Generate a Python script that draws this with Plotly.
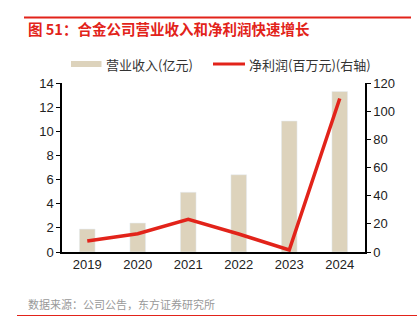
import plotly.graph_objects as go

years = ["2019", "2020", "2021", "2022", "2023", "2024"]
revenue = [1.9, 2.4, 4.95, 6.4, 10.85, 13.3]
net_profit = [7.8, 13.0, 23.2, 12.8, 1.4, 109.0]

red = "#E2231A"
bar_color = "#DDD3BC"
font_family = "Liberation Sans, Arial, Noto Sans CJK SC, sans-serif"
cjk = "Noto Sans CJK SC, sans-serif"

fig = go.Figure()
fig.add_trace(go.Bar(x=years, y=revenue, name="营业收入(亿元)", marker_color=bar_color,
                     width=0.31, yaxis="y", showlegend=False))
fig.add_trace(go.Scatter(x=years, y=net_profit, name="净利润(百万元)(右轴)", mode="lines",
                         line=dict(color=red, width=3.5), yaxis="y2", showlegend=False))

W, H = 417, 335
L, R, T, B = 62, 52, 83, 83
pw, ph = W - L - R, H - T - B


def px(x):
    return (x - L) / pw


def py(y):
    return (H - B - y) / ph


fig.update_layout(
    width=W, height=H,
    margin=dict(l=L, r=R, t=T, b=B),
    paper_bgcolor="white", plot_bgcolor="white",
    font=dict(family=font_family, size=13, color="#222"),
    showlegend=False,
    xaxis=dict(type="category", range=[-0.5, 5.5], showline=True, linecolor="black",
               linewidth=1.5, ticks="", showgrid=False, tickfont=dict(size=13, color="#222")),
    yaxis=dict(range=[0, 14], dtick=2, showline=True, linecolor="black", linewidth=1.5,
               ticks="outside", ticklen=4, tickcolor="black", showgrid=False, zeroline=False,
               tickfont=dict(size=13, color="#222")),
    yaxis2=dict(range=[0, 120], dtick=20, overlaying="y", side="right", showline=True,
                linecolor="black", linewidth=1.5, ticks="outside", ticklen=4, tickcolor="black",
                showgrid=False, zeroline=False, tickfont=dict(size=13, color="#222")),
    shapes=[
        dict(type="rect", xref="paper", yref="paper", x0=px(24), x1=px(411), y0=py(18.5), y1=py(16.5),
             fillcolor=red, line=dict(width=0), layer="above"),
        dict(type="line", xref="paper", yref="paper", x0=px(17), x1=px(417), y0=py(315.5), y1=py(315.5),
             line=dict(color=red, width=1.2)),
        # legend swatches
        dict(type="rect", xref="paper", yref="paper", x0=px(71), x1=px(101.5), y0=py(67), y1=py(61),
             fillcolor=bar_color, line=dict(width=0)),
        dict(type="line", xref="paper", yref="paper", x0=px(213), x1=px(245), y0=py(64), y1=py(64),
             line=dict(color=red, width=3)),
    ],
    annotations=[
        dict(text="<b>图 51：合金公司营业收入和净利润快速增长</b>", xref="paper", yref="paper",
             x=px(26), y=py(29), xanchor="left", yanchor="middle", showarrow=False,
             font=dict(size=14.5, color=red, family=cjk)),
        dict(text="数据来源：公司公告，东方证券研究所", xref="paper", yref="paper",
             x=px(26), y=py(304), xanchor="left", yanchor="middle", showarrow=False,
             font=dict(size=11, color="#999", family=cjk)),
        dict(text="营业收入(亿元)", xref="paper", yref="paper",
             x=px(104), y=py(64), xanchor="left", yanchor="middle", showarrow=False,
             font=dict(size=13, color="#333", family=cjk)),
        dict(text="净利润(百万元)(右轴)", xref="paper", yref="paper",
             x=px(247), y=py(64), xanchor="left", yanchor="middle", showarrow=False,
             font=dict(size=13, color="#333", family=cjk)),
    ],
)

fig.write_html("out.html", config={"displayModeBar": False})
